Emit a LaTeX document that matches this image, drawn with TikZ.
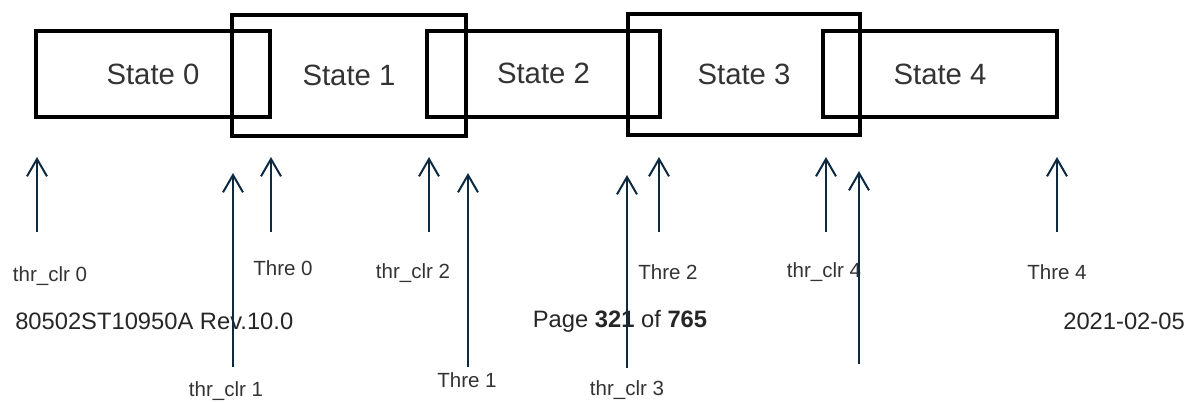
\documentclass[tikz,border=0pt]{standalone}
\usepackage{fontspec}
\setmainfont{Liberation Sans}
\usetikzlibrary{arrows.meta}
\definecolor{arrowc}{HTML}{0E2A40}
\definecolor{txtc}{HTML}{333333}
\begin{document}
\begin{tikzpicture}[x=0.75pt,y=-0.75pt,
  statebox/.style={draw=black,line width=3pt,inner sep=0pt,minimum width=175.5pt,text=txtc,font=\fontsize{22}{26}\selectfont},
  shortbox/.style={statebox,minimum height=64.5pt},
  tallbox/.style={statebox,minimum height=90.75pt},
  lbl/.style={text=txtc,font=\fontsize{15.4}{18}\selectfont,inner sep=0pt},
  foot/.style={text=black!85,font=\fontsize{17.8}{21}\selectfont,inner sep=0pt},
  uparrow/.style={draw=arrowc,line width=1.5pt,-{Straight Barb[length=13pt,width=15pt,line width=1.5pt]}}]
\useasboundingbox (0,0) rectangle (1188,401);
% state boxes
\node[shortbox] (s0) at (153,74) {State 0};
\node[tallbox]  (s1) at (349,75.5) {State 1};
\node[shortbox,minimum width=174.75pt] (s2) at (543.5,73.5) {State 2};
\node[tallbox,minimum width=174pt]  (s3) at (744,74.5) {State 3};
\node[shortbox] (s4) at (940,74) {State 4};
% labels
\node[lbl] (lc0) at (50,276) {thr\_clr 0};
\node[lbl] (lt0) at (283,268) {Thre 0};
\node[lbl] (lc1) at (226,391) {thr\_clr 1};
\node[lbl] (lc2) at (413,273) {thr\_clr 2};
\node[lbl] (lt1) at (467,380) {Thre 1};
\node[lbl] (lc3) at (627,390) {thr\_clr 3};
\node[lbl] (lt2) at (668,272) {Thre 2};
\node[lbl] (lc4) at (824,272) {thr\_clr 4};
\node[lbl] (lt4) at (1057,272) {Thre 4};
% footer
\node[foot,anchor=west] (f1) at (15,321) {80502ST10950A Rev.10.0};
\node[foot] (f2) at (620,321) {Page \textbf{321} of \textbf{765}};
\node[foot,anchor=east] (f3) at (1185,321) {2021-02-05};
% arrow coordinates
\coordinate (a0b) at (37,232);   \coordinate (a0t) at (37,157);
\coordinate (a1b) at (233,367);  \coordinate (a1t) at (233,173);
\coordinate (a2b) at (271,232);  \coordinate (a2t) at (271,157);
\coordinate (a3b) at (429,232);  \coordinate (a3t) at (429,157);
\coordinate (a4b) at (468,367);  \coordinate (a4t) at (468,173);
\coordinate (a5b) at (627,368);  \coordinate (a5t) at (627,175);
\coordinate (a6b) at (659,232);  \coordinate (a6t) at (659,157);
\coordinate (a7b) at (826,232);  \coordinate (a7t) at (826,157);
\coordinate (a8b) at (859,364);  \coordinate (a8t) at (859,171);
\coordinate (a9b) at (1057,232); \coordinate (a9t) at (1057,157);
\foreach \i in {0,...,9}{\draw[uparrow] (a\i b) -- (a\i t);}
\end{tikzpicture}
\end{document}
